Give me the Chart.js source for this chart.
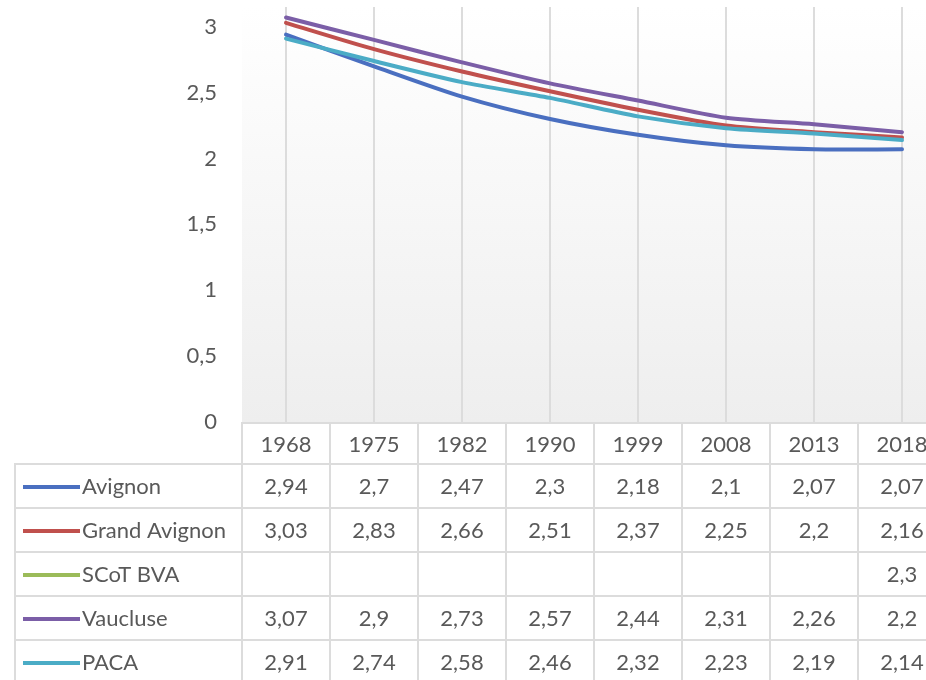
<!DOCTYPE html>
<html>
<head>
<meta charset="utf-8">
<script src="https://cdn.jsdelivr.net/npm/chart.js@4.4.1/dist/chart.umd.min.js"></script>
<style>
    html, body { margin: 0; padding: 0; background: #fff; overflow: hidden; }
    #cadre { width: 926px; height: 680px; overflow: hidden; }
</style>
</head>
<body>
<div id="cadre"><canvas id="graphique" width="960" height="680"></canvas></div>
<script>
const annees = ['1968', '1975', '1982', '1990', '1999', '2008', '2013', '2018'];
const avignon = [2.94, 2.7, 2.47, 2.3, 2.18, 2.1, 2.07, 2.07];
const grandAvignon = [3.03, 2.83, 2.66, 2.51, 2.37, 2.25, 2.2, 2.16];
const scotBva = [null, null, null, null, null, null, null, 2.3];
const vaucluse = [3.07, 2.9, 2.73, 2.57, 2.44, 2.31, 2.26, 2.2];
const paca = [2.91, 2.74, 2.58, 2.46, 2.32, 2.23, 2.19, 2.14];
const nomsSeries = ['Avignon', 'Grand Avignon', 'SCoT BVA', 'Vaucluse', 'PACA'];
const ticksY = [0, 0.5, 1, 1.5, 2, 2.5, 3];

const couleurs = ['#4a6fc0', '#c0504d', '#9bbb59', '#7b5ea7', '#4bacc6'];
const police = "Lato, 'Open Sans', sans-serif";
const gris = '#595959';
const virgule = v => String(v).replace('.', ',');

const valeurs = [avignon, grandAvignon, scotBva, vaucluse, paca];

// fond dégradé de la zone de tracé
const fondPlot = {
    id: 'fondPlot',
    beforeDraw(chart) {
        const {ctx, chartArea: a} = chart;
        const g = ctx.createLinearGradient(0, a.top, 0, a.bottom);
        g.addColorStop(0, '#ffffff');
        g.addColorStop(1, '#eeeeee');
        ctx.save();
        ctx.fillStyle = g;
        ctx.fillRect(a.left, a.top, a.right - a.left, a.bottom - a.top);
        ctx.restore();
    }
};

// table de données sous le graphique
const tableDonnees = {
    id: 'tableDonnees',
    afterDraw(chart) {
        const ctx = chart.ctx;
        const x = chart.scales.x;
        const a = chart.chartArea;
        const colW = x.getPixelForValue(1) - x.getPixelForValue(0);
        const haut = a.bottom + 1;
        const hEntete = 41, hLigne = 44, gauche = 15;

        ctx.save();
        ctx.strokeStyle = '#dcdcdc';
        ctx.lineWidth = 2;
        ctx.fillStyle = gris;
        ctx.font = '22px ' + police;
        ctx.textBaseline = 'middle';
        ctx.textAlign = 'center';

        annees.forEach((an, i) => {
            const cx = x.getPixelForValue(i);
            ctx.strokeRect(cx - colW / 2, haut, colW, hEntete);
            ctx.fillText(an, cx, haut + hEntete / 2 + 1);
        });

        nomsSeries.forEach((nom, r) => {
            const y0 = haut + hEntete + r * hLigne;
            const cy = y0 + hLigne / 2 + 1;
            ctx.strokeRect(gauche, y0, a.left - gauche, hLigne);
            ctx.strokeStyle = couleurs[r];
            ctx.lineWidth = 4;
            ctx.beginPath();
            ctx.moveTo(23, cy);
            ctx.lineTo(80, cy);
            ctx.stroke();
            ctx.strokeStyle = '#dcdcdc';
            ctx.lineWidth = 2;
            ctx.textAlign = 'left';
            ctx.fillText(nom, 82, cy);
            ctx.textAlign = 'center';
            valeurs[r].forEach((v, i) => {
                const cx = x.getPixelForValue(i);
                ctx.strokeRect(cx - colW / 2, y0, colW, hLigne);
                if (v !== null) ctx.fillText(virgule(v), cx, cy);
            });
        });
        ctx.restore();
    }
};

new Chart(document.getElementById('graphique'), {
    type: 'line',
    data: {
        labels: annees,
        datasets: nomsSeries.map((nom, i) => ({
            label: nom,
            data: valeurs[i],
            borderColor: couleurs[i],
            backgroundColor: couleurs[i],
            borderWidth: 4,
            pointRadius: 0,
            tension: 0.25,
            borderCapStyle: 'round',
            order: nomsSeries.length - i
        }))
    },
    options: {
        responsive: false,
        animation: false,
        devicePixelRatio: 1,
        layout: { autoPadding: false, padding: { left: 0, right: 14, top: 7, bottom: 258 } },
        plugins: { legend: { display: false }, tooltip: { enabled: false } },
        scales: {
            x: {
                offset: true,
                grid: { offset: false, color: '#dcdcdc', lineWidth: 2, drawTicks: false },
                border: { display: false },
                ticks: { display: false },
                afterFit: s => { s.height = 0; }
            },
            y: {
                min: 0,
                max: 3.15,
                grid: { display: false, drawTicks: false },
                border: { display: false },
                afterBuildTicks: s => { s.ticks = ticksY.map(v => ({value: v})); },
                afterFit: s => { s.width = 242; s.paddingTop = 0; s.paddingBottom = 0; },
                ticks: {
                    padding: 25,
                    color: gris,
                    font: { family: police, size: 22 },
                    callback: v => virgule(v)
                }
            }
        }
    },
    plugins: [fondPlot, tableDonnees]
});
</script>
</body>
</html>
